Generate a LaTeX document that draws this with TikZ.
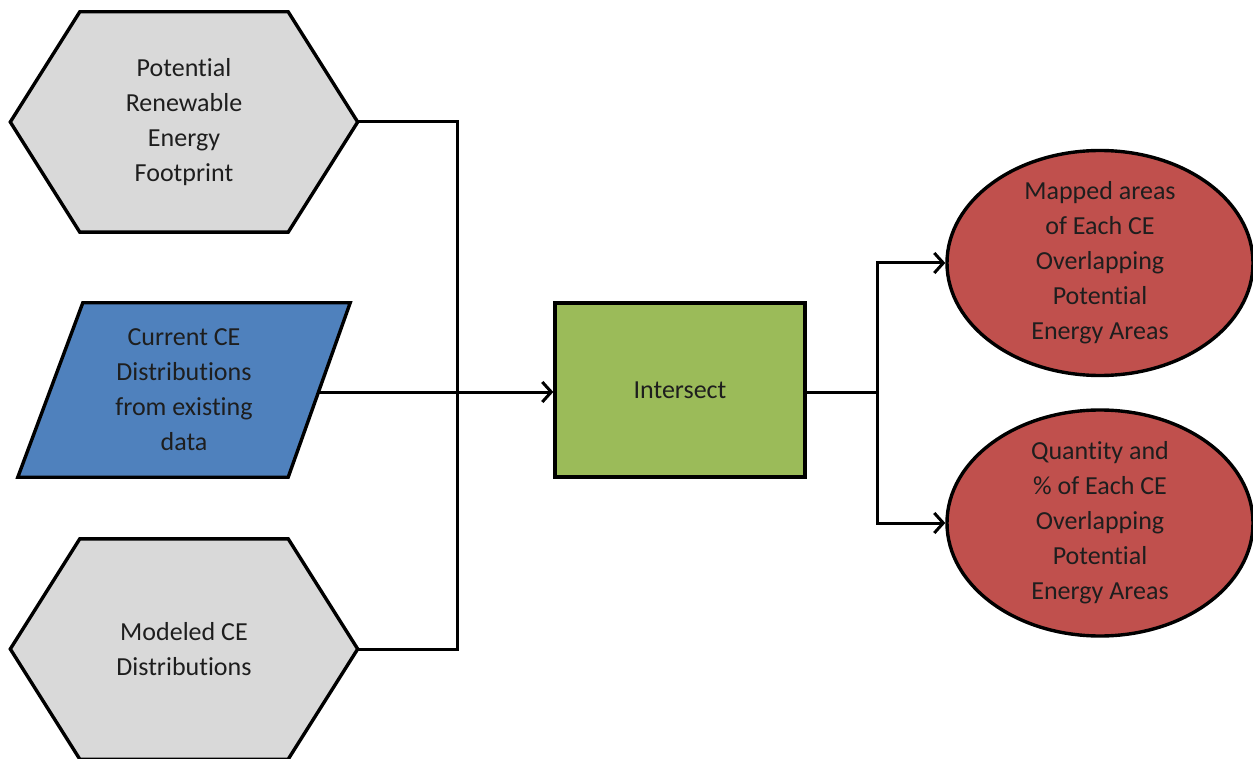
\documentclass[tikz,border=0pt]{standalone}
\usepackage{fontspec}
\setmainfont{Carlito}[RawFeature=-liga]
\usetikzlibrary{arrows.meta,shapes.geometric,backgrounds}
\definecolor{hexgray}{HTML}{D9D9D9}
\definecolor{parblue}{HTML}{4F81BD}
\definecolor{boxgreen}{HTML}{9BBB59}
\definecolor{ellred}{HTML}{C0504D}
\definecolor{txtc}{HTML}{1E1E1E}
\begin{document}
\begin{tikzpicture}[x=1pt,y=-1pt,
  lbl/.style={align=center, font=\fontsize{26}{35}\selectfont, text=txtc, inner sep=0pt},
  outline/.style={draw=black, line width=3.4pt, line join=miter},
  conn/.style={draw=black, line width=3pt},
  arr/.style={conn, -{Straight Barb[length=9pt,width=20pt]}}]
\useasboundingbox (0,0) rectangle (1253,759);

% input nodes
\node[lbl, minimum width=347pt, minimum height=220pt] (pref) at (184,122) {Potential\\Renewable\\Energy\\Footprint};
\node[lbl, minimum width=332pt, minimum height=174pt] (cur) at (184,390) {Current CE\\Distributions\\from existing\\data};
\node[lbl, minimum width=347pt, minimum height=220pt] (mod) at (184,649) {Modeled CE\\Distributions};

\begin{pgfonlayer}{background}
\path[outline, fill=hexgray] ([xshift=69.5pt]pref.north west) -- ([xshift=-69.5pt]pref.north east) -- (pref.east)
  -- ([xshift=-69.5pt]pref.south east) -- ([xshift=69.5pt]pref.south west) -- (pref.west) -- cycle;
\path[outline, fill=parblue] ([xshift=65pt]cur.north west) -- (cur.north east)
  -- ([xshift=-62pt]cur.south east) -- (cur.south west) -- cycle;
\path[outline, fill=hexgray] ([xshift=69.5pt]mod.north west) -- ([xshift=-69.5pt]mod.north east) -- (mod.east)
  -- ([xshift=-69.5pt]mod.south east) -- ([xshift=69.5pt]mod.south west) -- (mod.west) -- cycle;
\end{pgfonlayer}

% process
\node[lbl, outline, fill=boxgreen, minimum width=250pt, minimum height=174pt] (isect) at (680,390) {Intersect};

% outputs
\node[outline, ellipse, fill=ellred, minimum width=306pt, minimum height=225pt, inner sep=0pt] (out1) at (1100,263) {};
\node[lbl] (out1t) at (out1.center) {Mapped areas\\of Each CE\\Overlapping\\Potential\\Energy Areas};
\node[outline, ellipse, fill=ellred, minimum width=306pt, minimum height=226pt, inner sep=0pt] (out2) at (1100,523) {};
\node[lbl] (out2t) at (out2.center) {Quantity and\\\% of Each CE\\Overlapping\\Potential\\Energy Areas};

% connectors
\coordinate (curr) at (319,392);
\coordinate (jx) at (457,392);
\coordinate (jy) at (877,392);
\draw[conn] (pref.east) -| (jx);
\draw[conn] (mod.east) -| (jx);
\draw[arr] (curr) -- (isect.west |- curr);
\draw[conn] (isect.east |- jy) -- (jy);
\draw[arr] (jy) |- (out1.west);
\draw[arr] (jy) |- (out2.west);
\end{tikzpicture}
\end{document}
